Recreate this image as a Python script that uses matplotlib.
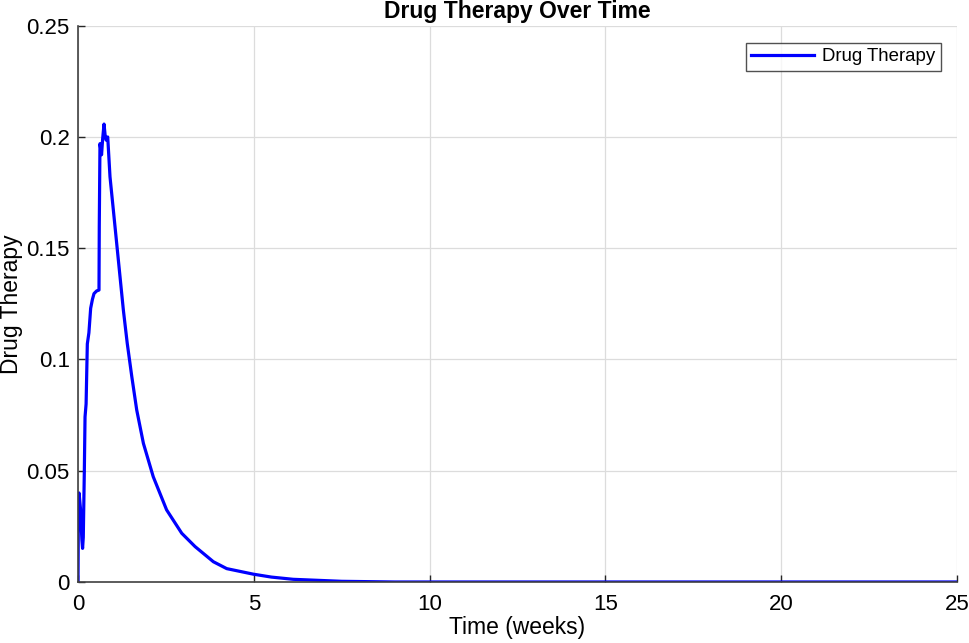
import numpy as np
import matplotlib.pyplot as plt

plt.rcParams['font.family'] = ['Liberation Sans', 'DejaVu Sans']

# values
time_weeks = [0.0, 0.01, 0.03, 0.07, 0.11, 0.13, 0.15, 0.18, 0.20, 0.23, 0.265, 0.31,
              0.36, 0.41, 0.455, 0.53, 0.597, 0.605, 0.625, 0.67, 0.70, 0.74, 0.77,
              0.80, 0.845, 0.91, 1.005, 1.10, 1.195, 1.29, 1.40, 1.53, 1.67, 1.86,
              2.14, 2.52, 2.95, 3.33, 3.85, 4.23, 4.99, 5.5, 6.12, 7.5, 9.0, 12.0, 25.0]
drug_therapy = [0.0, 0.030, 0.040, 0.033, 0.019, 0.0151, 0.020, 0.050, 0.0742, 0.080,
                0.107, 0.112, 0.123, 0.127, 0.1296, 0.1308, 0.1312, 0.160, 0.197,
                0.192, 0.199, 0.2058, 0.201, 0.1986, 0.200, 0.1821, 0.1672, 0.1522,
                0.1372, 0.1222, 0.1073, 0.0923, 0.0773, 0.0623, 0.0473, 0.0324,
                0.0219, 0.0159, 0.0091, 0.0060, 0.0035, 0.0022, 0.0012, 0.0003,
                0.0, 0.0, 0.0]
x_ticks = [0, 5, 10, 15, 20, 25]
y_ticks = [0, 0.05, 0.1, 0.15, 0.2, 0.25]
y_tick_labels = ['0', '0.05', '0.1', '0.15', '0.2', '0.25']

fig = plt.figure(figsize=(9.69, 6.43), dpi=100)
ax = fig.add_axes([0.0805, 0.0949, 0.9071, 0.8651])

ax.plot(time_weeks, drug_therapy, color='#0000ff', linewidth=2.3, label='Drug Therapy')

ax.set_xlim(0, 25)
ax.set_ylim(0, 0.25)
ax.set_xticks(x_ticks)
ax.set_yticks(y_ticks)
ax.set_yticklabels(y_tick_labels)
ax.tick_params(direction='in', length=5, width=1, colors='#262626', labelsize=16,
               labelcolor='black')
ax.tick_params(axis='x', pad=9)
ax.tick_params(axis='y', pad=6)

for side in ['top', 'right']:
    ax.spines[side].set_visible(False)
for side in ['left', 'bottom']:
    ax.spines[side].set_color('#404040')
    ax.spines[side].set_linewidth(1.2)

ax.grid(True, color='#dcdcdc', linewidth=0.9)
ax.set_axisbelow(True)

ax.set_title('Drug Therapy Over Time', fontsize=16.5, fontweight='bold', pad=5.3)
ax.set_xlabel('Time (weeks)', fontsize=16.5)
ax.set_ylabel('Drug Therapy', fontsize=16.5)
ax.xaxis.set_label_coords(0.5, -0.061)
ax.yaxis.set_label_coords(-0.0625, 0.5)

leg = ax.legend(loc='upper right', bbox_to_anchor=(0.9815, 0.9694), fontsize=13.4,
                frameon=True, fancybox=False, handlelength=3.4, borderpad=0.3,
                handletextpad=0.4, borderaxespad=0)
leg.get_frame().set_edgecolor('#262626')
leg.get_frame().set_linewidth(1.0)

fig.savefig('out.png', dpi=100)
